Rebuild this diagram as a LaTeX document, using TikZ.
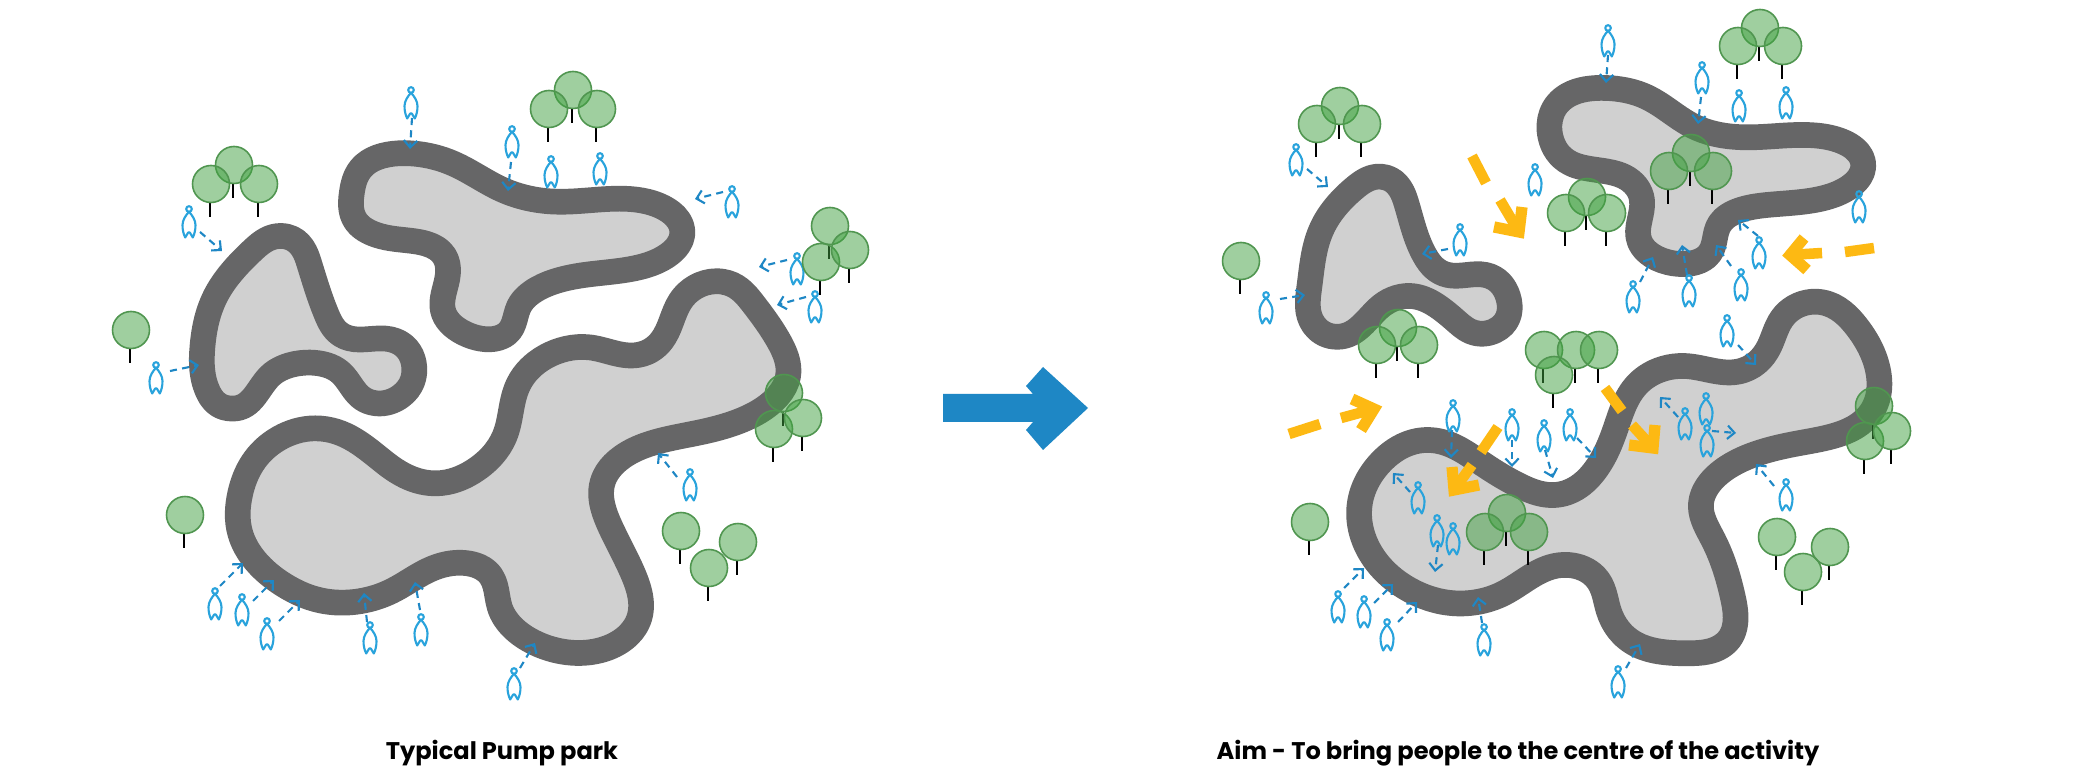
\documentclass[tikz,border=0pt]{standalone}
\usepackage{fontspec}
\setmainfont{Poppins}
\usetikzlibrary{arrows.meta,hobby}
\definecolor{roadgrey}{RGB}{102,102,103}
\definecolor{parkgrey}{RGB}{208,208,208}
\definecolor{treefill}{RGB}{65,161,65}
\definecolor{treeline}{RGB}{80,150,80}
\definecolor{peopleblue}{RGB}{41,163,220}
\definecolor{arrowblue}{RGB}{30,135,197}
\definecolor{sunyellow}{RGB}{253,185,19}
\tikzset{
  x=0.01cm,y=-0.01cm,
  road/.style={draw=roadgrey,fill=parkgrey,line width=7.3pt,line join=round,use Hobby shortcut,closed=true},
  treecrown/.style={draw=treeline,line width=0.45pt,fill=treefill,fill opacity=0.5},
  trunk/.style={draw=black,line width=0.5pt},
  body/.style={draw=peopleblue,line width=0.6pt,line join=round},
  walk/.style={draw=arrowblue,line width=0.6pt,dash pattern=on 2pt off 1.5pt,-{Straight Barb[length=2pt,width=3.8pt,line width=0.6pt]}},
  sunbar/.style={draw=sunyellow,line width=3pt},
  sunhead/.style={draw=sunyellow,line width=3.2pt,line join=miter,miter limit=4},
  caption/.style={font=\bfseries\fontsize{6.85}{9}\selectfont,text=black,inner sep=0pt,anchor=center},
  pics/tree/.style={code={
    \draw[trunk] (-1,18) -- (-1,33);
    \draw[treecrown] (0,0) circle (18.5);
  }},
  pics/person/.style={code={
    \draw[body] (0,0) circle (2.8);
    \draw[body] (0,2.8) .. controls (-3,6) and (-6.5,11) .. (-6.5,16)
      .. controls (-6.5,21) and (-5.5,25) .. (-3.8,28.5)
      -- (-0.8,23.5) -- (0.8,23.5) -- (3.8,28.5)
      .. controls (5.5,25) and (6.5,21) .. (6.5,16)
      .. controls (6.5,11) and (3,6) .. (0,2.8);
  }}
}
\newcommand{\tri}[6]{%
  \pic at (#1,#2) {tree};\pic at (#3,#4) {tree};\pic at (#5,#6) {tree};}
\newcommand{\pp}[2]{\pic at (#1,#2) {person};}
\newcommand{\wk}[3]{\draw[walk] (#1) -- (#2);\pic at (#3) {person};}
\newcommand{\sun}[6]{%
  \draw[sunbar] (#1) -- (#2);
  \draw[sunbar] (#3) -- (#5);
  \draw[sunhead] (#4) -- (#5) -- (#6);}
\begin{document}
\begin{tikzpicture}
\useasboundingbox (0,0) rectangle (2083,777);
\fill[white] (0,0) rectangle (2083,777);

% left park: shapes traced in the two crops' frames
\begin{scope}[shift={(90,60)},xscale=.4847,yscale=.3333]
\draw[road] (660,280)..(740,305)..(860,395)..(960,425)..(1150,425)..(1222,510)..(1160,610)..(1020,645)..(925,685)..(885,740)..(850,830)..(780,825)..(730,760)..(735,670)..(715,565)..(620,535)..(555,495)..(540,400)..(575,305);
\draw[road] (395,528)..(450,600)..(490,770)..(535,835)..(620,838)..(668,910)..(640,1010)..(590,1030)..(510,930)..(445,908)..(370,950)..(285,1045)..(245,1000)..(232,860)..(262,700)..(340,565);
\end{scope}
\begin{scope}[shift={(90,400)},xscale=.4847,yscale=.3333]
\draw[road] (1305,-355)..(1365,-295)..(1420,-180)..(1440,-70)..(1380,35)..(1265,95)..(1130,145)..(1062,230)..(1075,385)..(1120,520)..(1125,680)..(1040,755)..(920,730)..(845,620)..(810,505)..(745,490)..(620,575)..(490,605)..(400,555)..(310,400)..(310,280)..(390,115)..(465,85)..(610,190)..(715,250)..(790,215)..(855,110)..(885,-50)..(940,-130)..(1030,-158)..(1130,-135)..(1185,-190)..(1225,-310);
\end{scope}

% right park
\begin{scope}[shift={(1200,0)},xscale=.4464,yscale=.3333]
\draw[road] (910,264)..(990,285)..(1115,385)..(1220,412)..(1400,410)..(1485,485)..(1420,585)..(1270,615)..(1165,670)..(1135,770)..(1060,790)..(985,725)..(990,600)..(950,530)..(830,490)..(785,410)..(825,285);
\draw[road] (405,530)..(460,600)..(505,770)..(555,825)..(640,825)..(690,890)..(670,985)..(620,1000)..(575,965)..(530,917)..(470,888)..(400,925)..(300,1010)..(255,975)..(245,860)..(275,680)..(350,560);
\end{scope}
\begin{scope}[shift={(1200,340)},xscale=.4464,yscale=.3333]
\draw[road] (1380,-115)..(1465,-50)..(1520,100)..(1480,250)..(1340,310)..(1190,375)..(1122,500)..(1150,600)..(1195,780)..(1160,925)..(1090,940)..(980,915)..(915,810)..(885,710)..(825,675)..(680,760)..(570,790)..(470,750)..(365,590)..(358,490)..(410,360)..(510,300)..(620,360)..(720,440)..(795,465)..(880,400)..(935,250)..(1000,110)..(1085,78)..(1205,95)..(1275,20)..(1310,-75);
\end{scope}

% left people
\wk{412,118}{410,149}{411,90}
\wk{511,162}{508,191}{512,129}
\pp{551}{159}\pp{600}{156}
\wk{723,192}{695,199}{732,189}
\wk{200,232}{222,251}{189,209}
\wk{170,371}{199,365}{156,365}
\wk{787,260}{759,267}{797,256}
\wk{806,297}{777,305}{815,294}
\wk{677,477}{658,453}{690,472}
\wk{220,586}{243,563}{215,591}
\wk{253,601}{274,580}{242,597}
\wk{279,621}{300,600}{267,621}
\wk{367,622}{364,593}{370,625}
\wk{420,610}{415,582}{421,617}
\wk{520,668}{535,643}{514,671}

% right people
\wk{1608,55}{1606,83}{1608,28}
\wk{1701,97}{1698,124}{1702,65}
\pp{1739}{93}\pp{1786}{90}\pp{1535}{167}\pp{1859}{194}
\wk{1307,169}{1328,187}{1296,147}
\wk{1448,249}{1422,254}{1460,227}
\wk{1280,299}{1305,295}{1266,295}
\wk{1758,236}{1738,220}{1759,240}
\wk{1731,266}{1716,245}{1741,272}
\wk{1687,275}{1682,245}{1689,278}
\wk{1640,282}{1653,257}{1633,284}
\wk{1738,345}{1756,365}{1727,318}
\wk{1452,430}{1451,458}{1453,403}
\wk{1512,440}{1512,467}{1512,412}
\wk{1545,450}{1553,478}{1544,423}
\wk{1577,438}{1596,458}{1570,412}
\wk{1678,417}{1660,397}{1685,411}
\pp{1706}{396}
\wk{1712,431}{1736,433}{1707,428}
\wk{1774,486}{1756,464}{1786,482}
\wk{1410,492}{1393,473}{1418,485}
\wk{1438,545}{1435,572}{1437,518}
\pp{1453}{526}
\wk{1344,588}{1364,568}{1338,594}
\wk{1374,603}{1393,584}{1364,599}
\wk{1398,622}{1417,602}{1387,622}
\wk{1482,623}{1478,597}{1484,627}
\wk{1626,668}{1640,644}{1618,669}

% left trees
\tri{234}{165}{211}{184}{259}{184}
\tri{573}{90}{549}{109}{597}{109}
\pic at (131,330) {tree};
\tri{830}{226}{821}{262}{850}{250}
\tri{784}{393}{774}{429}{803}{418}
\pic at (185,515) {tree};
\tri{681}{531}{738}{542}{709}{568}

% right trees
\tri{1340}{106}{1317}{124}{1362}{124}
\tri{1760}{28}{1738}{46}{1783}{46}
\tri{1691}{153}{1669}{171}{1713}{171}
\tri{1587}{197}{1566}{213}{1607}{213}
\tri{1398}{328}{1377}{345}{1419}{345}
\pic at (1241,261) {tree};
\tri{1544}{350}{1576}{350}{1599}{350}
\pic at (1554,375) {tree};
\pic at (1310,522) {tree};
\tri{1777}{537}{1830}{547}{1803}{572}
\tri{1507}{513}{1485}{532}{1529}{532}
\tri{1874}{406}{1865}{441}{1892}{431}

% yellow flow arrows: bar start/end, shaft start, barb, tip, barb
\sun{1472,156}{1486,183}{1500,200}{1522,207}{1519,232}{1494,227}
\sun{1874,248}{1845,252}{1822,253}{1804,238}{1790,255}{1807,270}
\sun{1289,434}{1320,424}{1341,418}{1352,399}{1374,409}{1361,430}
\sun{1498,427}{1481,452}{1472,465}{1452,467}{1454,490}{1479,485}
\sun{1605,388}{1622,411}{1632,425}{1655,425}{1653,448}{1629,445}

% big arrow between the two parks
\fill[arrowblue] (943,394) -- (1033,394) -- (1026,386) -- (1043,367) -- (1088,408)
  -- (1043,450) -- (1026,430) -- (1033,422) -- (943,422) -- cycle;

\node[caption] (cap1) at (502,753) {Typical Pump park};
\node[caption] (cap2) at (1518,753) {Aim - To bring people to the centre of the activity};
\end{tikzpicture}
\end{document}
